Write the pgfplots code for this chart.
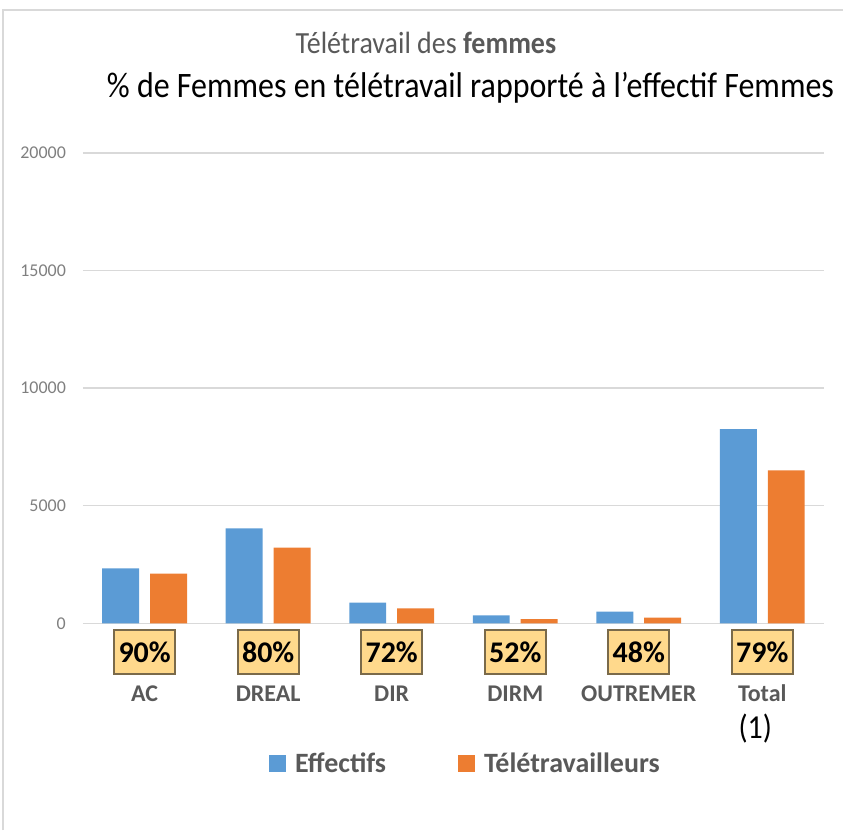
\documentclass[border=0pt]{standalone}
\usepackage{pgfplots}
\pgfplotsset{compat=1.18}
\usepackage{fontspec}
\setmainfont{Carlito}
\definecolor{cblue}{HTML}{5B9BD5}
\definecolor{corange}{HTML}{ED7D31}
\definecolor{gridc}{HTML}{D9D9D9}
\definecolor{txtgray}{HTML}{595959}
\definecolor{tickgray}{HTML}{7F7F7F}
\definecolor{boxfill}{HTML}{FFD98C}
\definecolor{boxdraw}{HTML}{7A6A4A}
\definecolor{framec}{HTML}{D9D9D9}
\tikzset{pbox/.style={draw=boxdraw, fill=boxfill, line width=1pt, minimum width=30.5pt, minimum height=22pt,
    inner sep=0pt, anchor=north, yshift=-3pt, font=\bfseries\fontsize{15}{15}\selectfont, text=black}}
\begin{document}
\begin{tikzpicture}
\path (0,0) rectangle (422pt,415.5pt);
\draw[framec, line width=1pt] (1.5pt,0) -- (1.5pt,410.5pt) -- (422pt,410.5pt);
\node[font=\fontsize{14}{16}\selectfont, text=txtgray] at (213.25pt,394pt) {\scalebox{1}[1.1]{Télétravail des \textbf{femmes}}};
\node[font=\fontsize{16}{18}\selectfont, text=black] at (235.5pt,371.5pt) {\scalebox{1}[1.12]{\% de Femmes en télétravail rapporté à l’effectif Femmes}};
\begin{axis}[
  at={(41.5pt,103.5pt)}, anchor=south west,
  scale only axis, width=371pt, height=235.5pt,
  xmin=-0.5, xmax=5.5, ymin=0, ymax=20000,
  ybar=5.5pt, bar width=18.5pt,
  scaled y ticks=false,
  xtick={0,1,2,3,4,5},
  xticklabels={AC,DREAL,DIR,DIRM,OUTREMER,Total},
  ytick={0,5000,10000,15000,20000},
  yticklabels={0,5000,10000,15000,20000},
  ymajorgrids, grid style={gridc, line width=0.75pt},
  axis line style={draw=none}, major tick length=0pt,
  clip=false,
  yticklabel style={font=\fontsize{9}{9}\selectfont, text=tickgray, xshift=-5pt},
  xticklabel style={font=\bfseries\fontsize{12}{12}\selectfont, text=txtgray, anchor=base, yshift=-39pt},
  legend style={at={(0.5175,-0.299)}, anchor=center, legend columns=2, draw=none, fill=none,
    font=\bfseries\fontsize{14}{14}\selectfont, text=txtgray,
    /tikz/every even column/.append style={column sep=34pt}},
  legend image code/.code={\fill[#1] (0pt,-4.25pt) rectangle (8.5pt,4.25pt);},
]
\addplot[fill=cblue, draw=none] coordinates {(0,2330) (1,4030) (2,880) (3,340) (4,500) (5,8250)};
\addplot[fill=corange, draw=none] coordinates {(0,2110) (1,3220) (2,635) (3,175) (4,240) (5,6500)};
\legend{\hspace{2.5pt}Effectifs, \hspace{2.5pt}Télétravailleurs}
\node[pbox] at (axis cs:0,0) {90\%};
\node[pbox] at (axis cs:1,0) {80\%};
\node[pbox] at (axis cs:2,0) {72\%};
\node[pbox] at (axis cs:3,0) {52\%};
\node[pbox] at (axis cs:4,0) {48\%};
\node[pbox] at (axis cs:5,0) {79\%};
\node[font=\fontsize{15}{15}\selectfont, text=black, anchor=base, xshift=-3.5pt, yshift=-57.5pt] at (axis cs:5,0) {\scalebox{1}[1.12]{(1)}};
\end{axis}
\end{tikzpicture}
\end{document}
